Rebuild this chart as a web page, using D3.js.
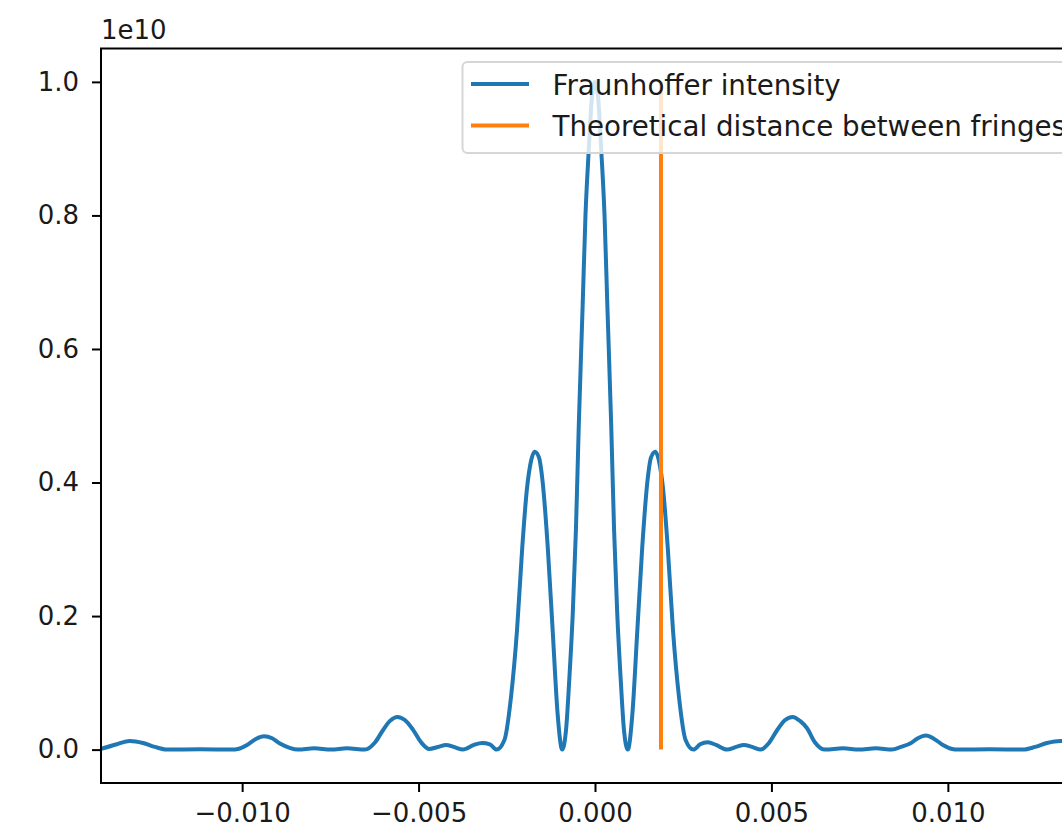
<!DOCTYPE html>
<html>
<head>
<meta charset="utf-8">
<script src="https://cdn.jsdelivr.net/npm/d3@7"></script>
<style>
  html, body { margin: 0; padding: 0; background: #fff; overflow: hidden; }
  text { font-family: "DejaVu Sans", sans-serif; }
</style>
</head>
<body>
<svg id="chart" width="1062" height="832"></svg>
<script>
// Screen position (same unit as the x axis) and Fraunhofer intensity (in units of 1e10)
const position = [
  -0.01400, -0.01355, -0.01319, -0.01281, -0.01247, -0.01213, -0.01119, -0.01029,
  -0.01012, -0.00986, -0.00961, -0.00938, -0.00915, -0.00893, -0.00867, -0.00842,
  -0.00796, -0.00748, -0.00703, -0.00652, -0.00623, -0.00601, -0.00581, -0.00560,
  -0.00538, -0.00516, -0.00493, -0.00470, -0.00445, -0.00422, -0.00400, -0.00374,
  -0.00343, -0.00320, -0.00298, -0.00279, -0.00257, -0.00238, -0.00221, -0.00206,
  -0.00193, -0.00184, -0.00171, -0.00159, -0.00149, -0.00134, -0.00120, -0.00106,
  -0.00093, -0.00082, -0.00073, -0.00063, -0.00054, -0.00046, -0.00035, -0.00027,
  -0.00018, -0.000085, 0,
  0.000085, 0.00018, 0.00027, 0.00035, 0.00046, 0.00054, 0.00063, 0.00073,
  0.00082, 0.00093, 0.00106, 0.00120, 0.00134, 0.00149, 0.00159, 0.00171,
  0.00184, 0.00193, 0.00206, 0.00221, 0.00238, 0.00257, 0.00279, 0.00298,
  0.00320, 0.00343, 0.00374, 0.00400, 0.00422, 0.00445, 0.00470, 0.00493,
  0.00516, 0.00538, 0.00560, 0.00581, 0.00601, 0.00623, 0.00652, 0.00703,
  0.00748, 0.00796, 0.00842, 0.00867, 0.00893, 0.00915, 0.00938, 0.00961,
  0.00986, 0.01012, 0.01029, 0.01119, 0.01213, 0.01247, 0.01281, 0.01319,
  0.01355, 0.01400
];
const intensity = [
  0.001, 0.008, 0.013, 0.010, 0.004, 0.000, 0.0005, 0.000,
  0.001, 0.007, 0.016, 0.020, 0.017, 0.009, 0.003, 0.000,
  0.002, 0.000, 0.002, 0.000, 0.011, 0.029, 0.043, 0.049,
  0.044, 0.030, 0.011, 0.001, 0.004, 0.007, 0.004, 0.000,
  0.007, 0.010, 0.008, 0.000, 0.014, 0.079, 0.179, 0.304,
  0.390, 0.425, 0.446, 0.438, 0.404, 0.304, 0.179, 0.054,
  0.000, 0.030, 0.104, 0.204, 0.330, 0.485, 0.665, 0.800,
  0.895, 0.978, 1.000,
  0.978, 0.895, 0.800, 0.665, 0.485, 0.330, 0.204, 0.104,
  0.030, 0.000, 0.054, 0.179, 0.304, 0.404, 0.438, 0.446,
  0.425, 0.390, 0.304, 0.179, 0.079, 0.014, 0.000, 0.008,
  0.011, 0.007, 0.000, 0.004, 0.007, 0.004, 0.000, 0.010,
  0.029, 0.044, 0.049, 0.043, 0.032, 0.011, 0.000, 0.002,
  0.000, 0.002, 0.000, 0.004, 0.009, 0.017, 0.021, 0.016,
  0.007, 0.001, 0.000, 0.0005, 0.000, 0.004, 0.010, 0.013,
  0.009, 0.000
];

// Theoretical fringe spacing marker: drawn from 0 up to the peak intensity
const fringeSpacing = 0.00187;
const fringeTop = 1.0;

const xTicks = [-0.010, -0.005, 0.000, 0.005, 0.010];
const xTickLabels = ["\u22120.010", "\u22120.005", "0.000", "0.005", "0.010"];
const yTicks = [0.0, 0.2, 0.4, 0.6, 0.8, 1.0];
const yTickLabels = ["0.0", "0.2", "0.4", "0.6", "0.8", "1.0"];
const yOffsetLabel = "1e10";
const seriesNames = ["Fraunhoffer intensity", "Theoretical distance between fringes"];
const seriesColors = ["#1f77b4", "#ff7f0e"];

const svg = d3.select("#chart");
svg.append("rect").attr("width", 1062).attr("height", 832).attr("fill", "#fff");

const plot = { left: 101, right: 1089, top: 48.5, bottom: 783 };
const x = d3.scaleLinear().domain([-0.014, 0.014]).range([plot.left, plot.right]);
const y = d3.scaleLinear().domain([-0.05, 1.05]).range([plot.bottom, plot.top]);

svg.append("defs").append("clipPath").attr("id", "plot-clip")
  .append("rect")
  .attr("x", plot.left).attr("y", plot.top)
  .attr("width", plot.right - plot.left).attr("height", plot.bottom - plot.top);

const data = position.map((p, i) => ({ p, v: intensity[i] }));

const lines = svg.append("g").attr("clip-path", "url(#plot-clip)");
lines.append("path")
  .datum(data)
  .attr("fill", "none")
  .attr("stroke", seriesColors[0])
  .attr("stroke-width", 4)
  .attr("stroke-linejoin", "round")
  .attr("stroke-linecap", "square")
  .attr("d", d3.line().x(d => x(d.p)).y(d => y(d.v)).curve(d3.curveMonotoneX));

lines.append("line")
  .attr("x1", x(fringeSpacing)).attr("x2", x(fringeSpacing))
  .attr("y1", y(0)).attr("y2", y(fringeTop))
  .attr("stroke", seriesColors[1])
  .attr("stroke-width", 4);

// Axes
const tickFont = 26;
const xAxis = d3.axisBottom(x).tickValues(xTicks)
  .tickFormat((d, i) => xTickLabels[i]).tickSize(9).tickPadding(12);
const yAxis = d3.axisLeft(y).tickValues(yTicks)
  .tickFormat((d, i) => yTickLabels[i]).tickSize(9).tickPadding(13);

const gx = svg.append("g").attr("transform", `translate(0,${plot.bottom})`).call(xAxis);
const gy = svg.append("g").attr("transform", `translate(${plot.left},0)`).call(yAxis);
[gx, gy].forEach(g => {
  g.select(".domain").remove();
  g.selectAll(".tick line").attr("stroke", "#000").attr("stroke-width", 2);
  g.selectAll(".tick text").attr("fill", "#1a1a1a").attr("font-size", tickFont);
});

// Spines
svg.append("rect")
  .attr("x", plot.left).attr("y", plot.top)
  .attr("width", plot.right - plot.left).attr("height", plot.bottom - plot.top)
  .attr("fill", "none").attr("stroke", "#000").attr("stroke-width", 2);

// Scale factor shown above the y axis
svg.append("text")
  .attr("x", plot.left).attr("y", 39)
  .attr("font-size", tickFont).attr("fill", "#1a1a1a")
  .text(yOffsetLabel);

// Legend
const legend = svg.append("g");
legend.append("rect")
  .attr("x", 462.5).attr("y", 62).attr("width", 616).attr("height", 91)
  .attr("rx", 5)
  .attr("fill", "#fff").attr("fill-opacity", 0.8)
  .attr("stroke", "#d6d6d6").attr("stroke-width", 2);
const handleY = [84, 125.5];
const labelBaseline = [95, 136];
seriesNames.forEach((name, i) => {
  legend.append("line")
    .attr("x1", 471).attr("x2", 529)
    .attr("y1", handleY[i]).attr("y2", handleY[i])
    .attr("stroke", seriesColors[i]).attr("stroke-width", 4);
  legend.append("text")
    .attr("x", 552.5).attr("y", labelBaseline[i])
    .attr("font-size", 27.7).attr("fill", "#1a1a1a")
    .text(name);
});
</script>
</body>
</html>
